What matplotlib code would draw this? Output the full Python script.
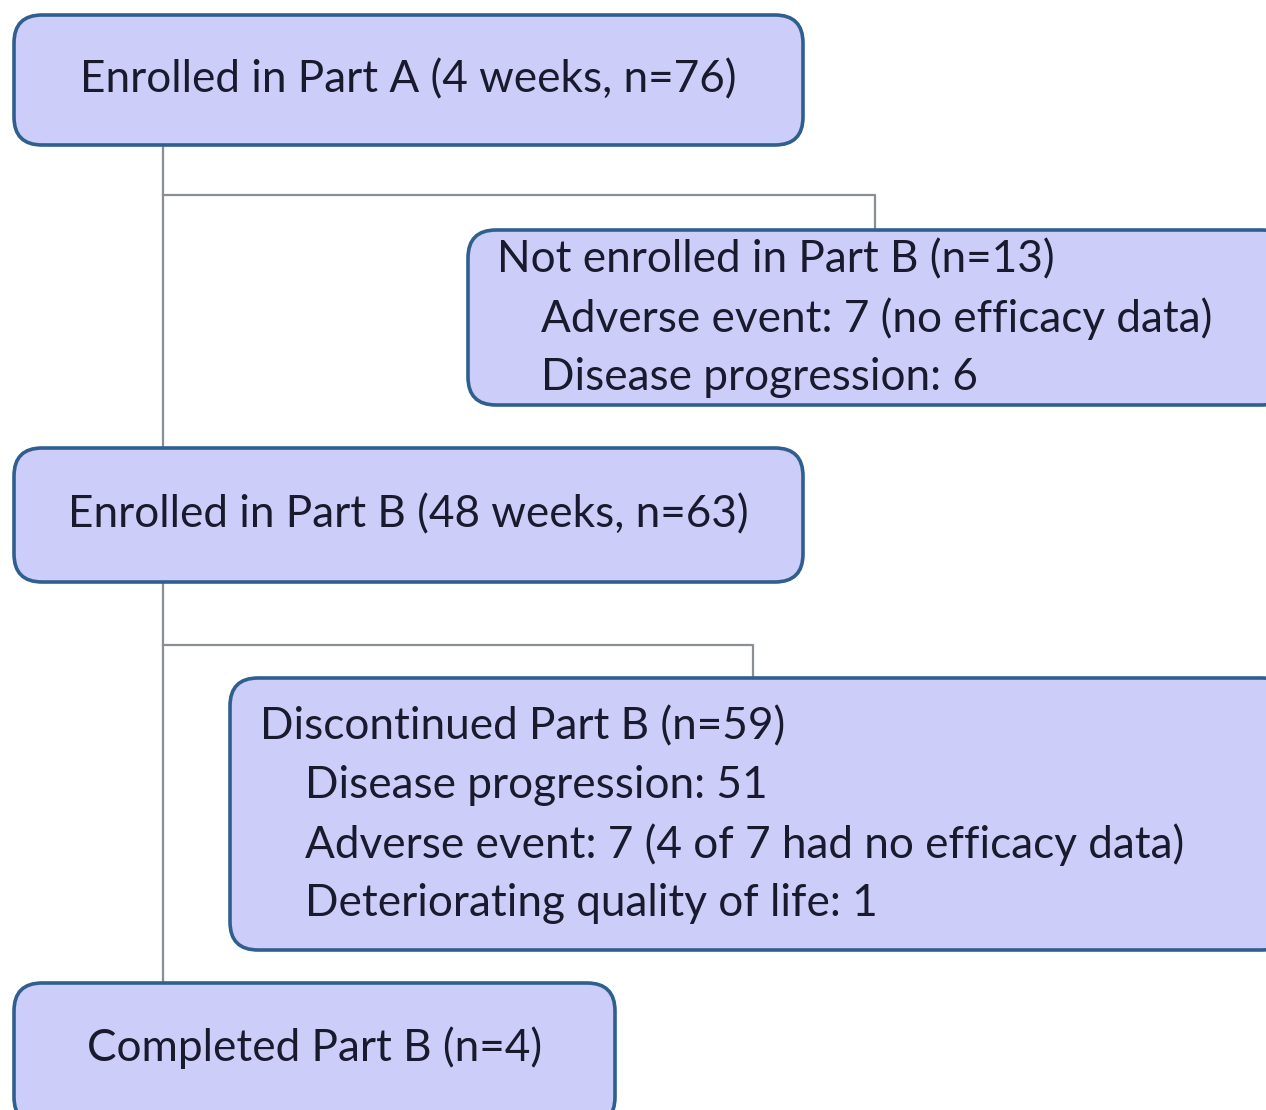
import matplotlib
matplotlib.use("Agg")
import matplotlib.pyplot as plt
from matplotlib.patches import FancyBboxPatch

# ---- content ----
main_labels = [
    "Enrolled in Part A (4 weeks, n=76)",
    "Enrolled in Part B (48 weeks, n=63)",
    "Completed Part B (n=4)",
]
side1_title = "Not enrolled in Part B (n=13)"
side1_items = ["Adverse event: 7 (no efficacy data)", "Disease progression: 6"]
side2_title = "Discontinued Part B (n=59)"
side2_items = [
    "Disease progression: 51",
    "Adverse event: 7 (4 of 7 had no efficacy data)",
    "Deteriorating quality of life: 1",
]

W, H = 1266, 1110
fig = plt.figure(figsize=(W / 100, H / 100), dpi=100)
ax = fig.add_axes([0, 0, 1, 1])
ax.set_xlim(0, W)
ax.set_ylim(H, 0)
ax.axis("off")

FILL = "#cdcdf9"
EDGE = "#2f5f8f"
LINE = "#8a8f94"
TXT = "#1a1a2e"
FONT = "Lato"
FS = 31.8

def box(x0, y0, x1, y1):
    p = FancyBboxPatch((x0, y0), x1 - x0, y1 - y0,
                       boxstyle="round,pad=0,rounding_size=28",
                       fc=FILL, ec=EDGE, lw=2.6, zorder=3, clip_on=True)
    ax.add_patch(p)

# connectors
ax.plot([163, 163], [145, 985], color=LINE, lw=1.6, zorder=1)
ax.plot([163, 875, 875], [195, 195, 232], color=LINE, lw=1.6, zorder=1)
ax.plot([163, 753, 753], [645, 645, 680], color=LINE, lw=1.6, zorder=1)

# main boxes
main_boxes = [(14, 15, 803, 145), (14, 448, 803, 582), (14, 983, 615, 1125)]
main_text_y = [80, 515, 1048]
for (x0, y0, x1, y1), lab, ty in zip(main_boxes, main_labels, main_text_y):
    box(x0, y0, x1, y1)
    ax.text((x0 + x1) / 2, ty, lab, ha="center", va="center",
            fontsize=FS, family=FONT, color=TXT, zorder=4)

# side box 1
box(468, 230, 1290, 405)
ax.text(497, 260, side1_title, ha="left", va="center", fontsize=FS,
        family=FONT, color=TXT, zorder=4)
for i, s in enumerate(side1_items):
    ax.text(541, 319 + 58.5 * i, s, ha="left", va="center", fontsize=FS,
            family=FONT, color=TXT, zorder=4)

# side box 2
box(230, 678, 1290, 950)
ax.text(260, 727, side2_title, ha="left", va="center", fontsize=FS,
        family=FONT, color=TXT, zorder=4)
for i, s in enumerate(side2_items):
    ax.text(305, 786 + 58.7 * i, s, ha="left", va="center", fontsize=FS,
            family=FONT, color=TXT, zorder=4)

fig.savefig("out.png", dpi=100, facecolor="white")
